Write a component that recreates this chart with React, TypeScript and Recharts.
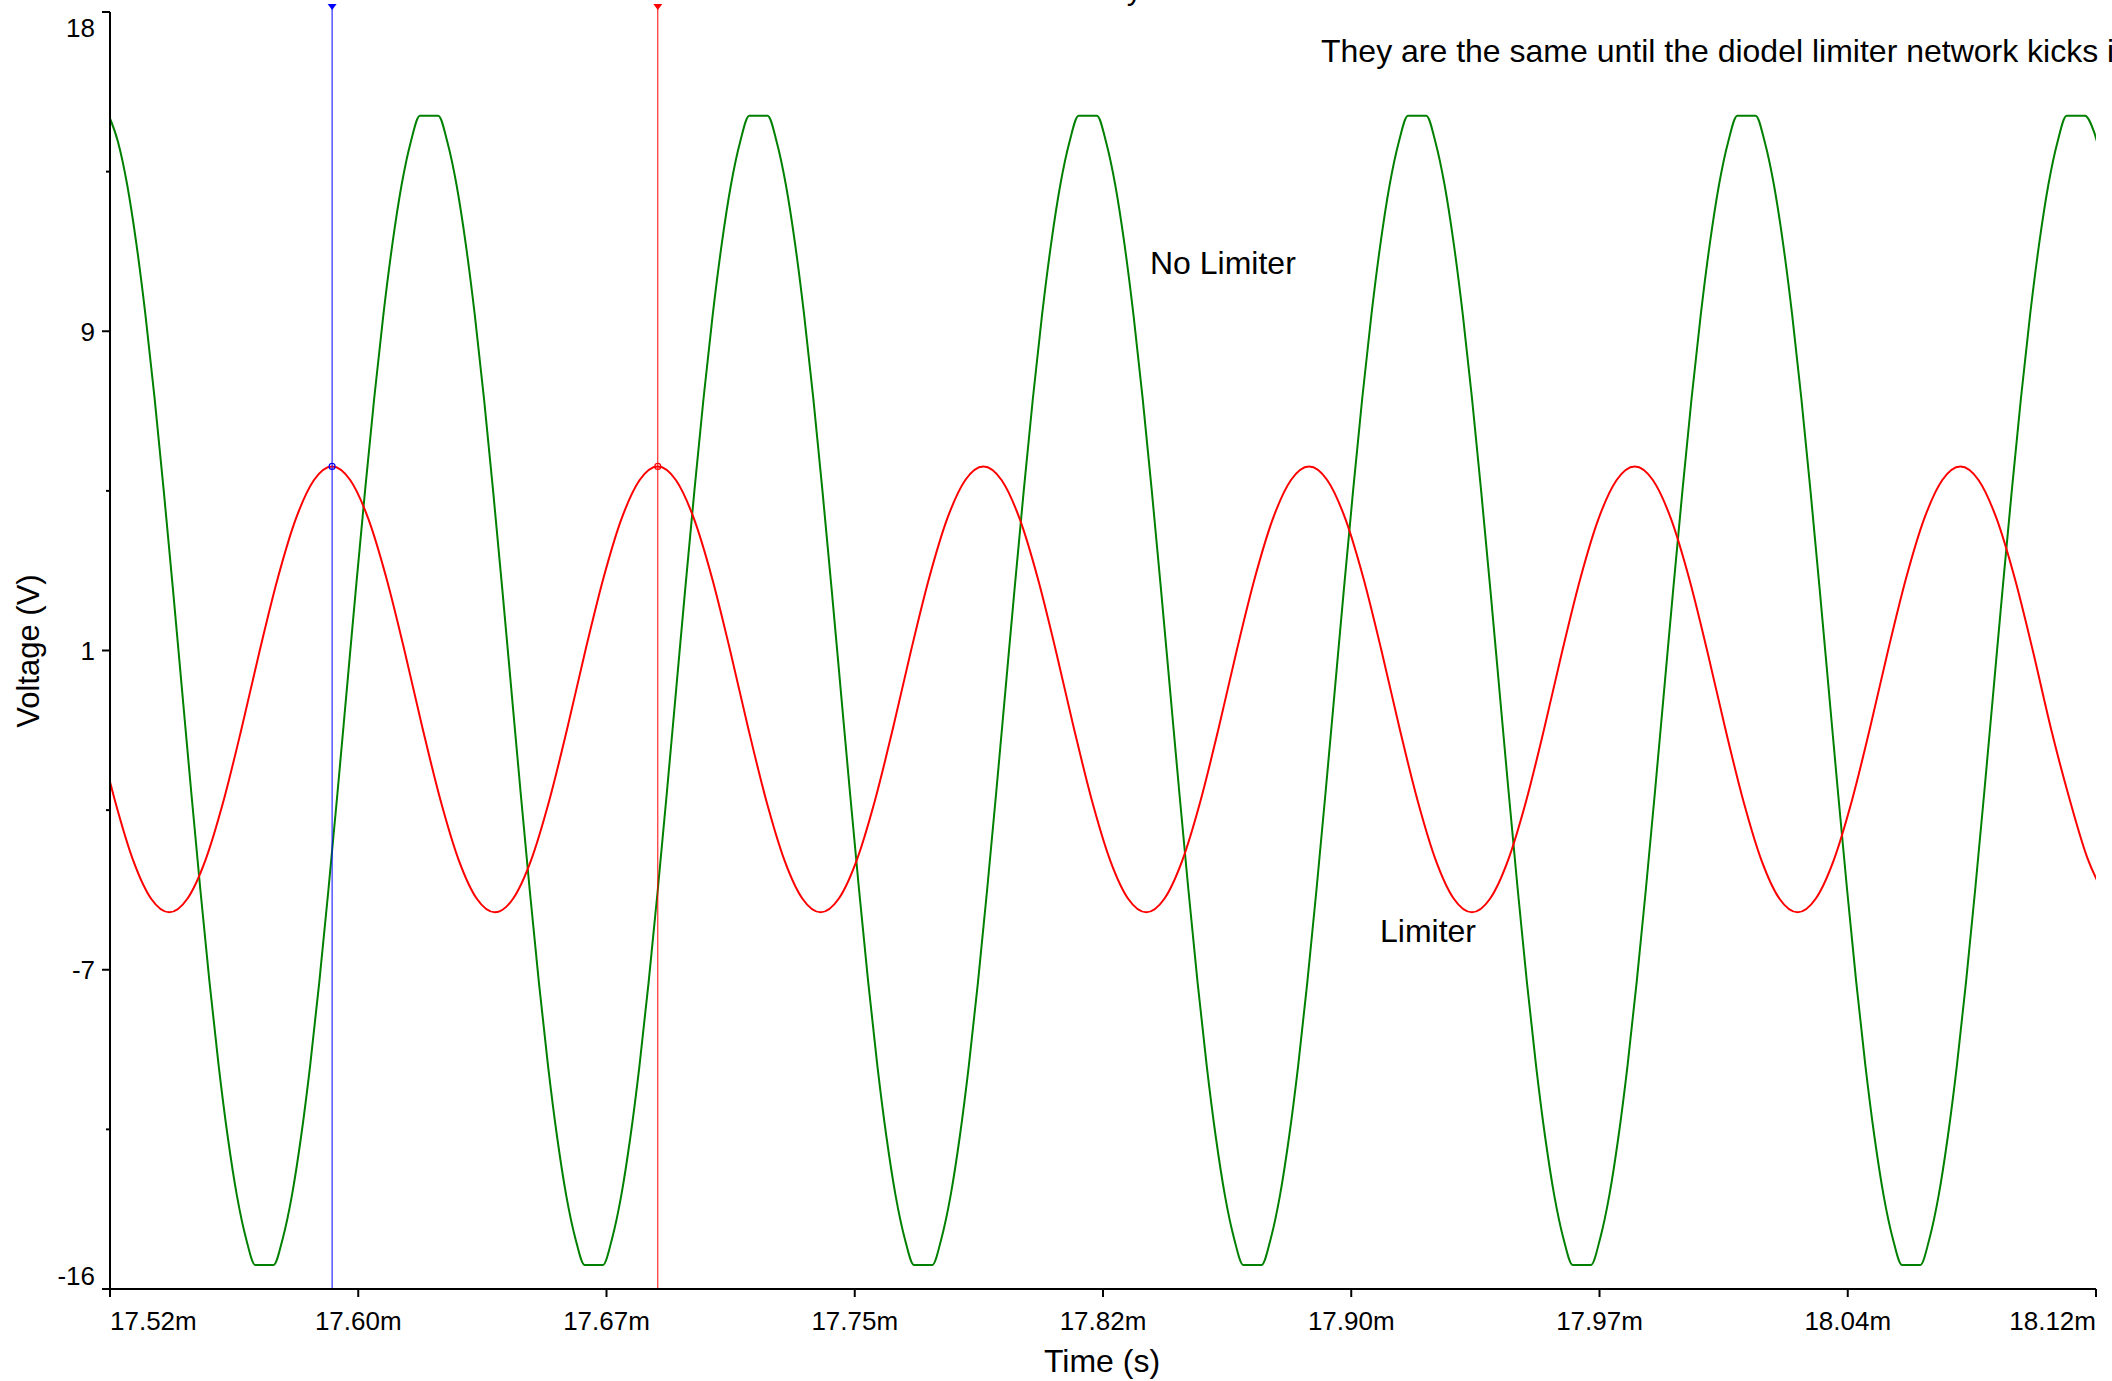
import React from 'react';
import { LineChart, Line, XAxis, YAxis, ReferenceLine, ReferenceDot, Customized } from 'recharts';

// Time axis (ms), shown with an "m" suffix
const X_TICKS = [17.52, 17.595, 17.67, 17.745, 17.82, 17.895, 17.97, 18.045, 18.12];
const X_TICK_LABELS = ['17.52m', '17.60m', '17.67m', '17.75m', '17.82m', '17.90m', '17.97m', '18.04m', '18.12m'];

// Voltage axis: four equal divisions of the -16..18 span, labels truncated toward zero
const Y_MAJOR_TICKS = [18, 9.5, 1, -7.5, -16];
const Y_TICK_LABELS = ['18', '9', '1', '-7', '-16'];
const Y_MINOR_TICKS = [13.75, 5.25, -3.25, -11.75];

// "No Limiter" trace: op-amp output, flattening at the rails
const GREEN_T0 = 17.51966; // ms, first sample
const GREEN_DT = 0.0027639; // ms between samples
const GREEN_VOLTS = [
  15.24, 14.54, 13.4, 11.84, 9.93, 7.71, 5.25, 2.64, -0.06, -2.76, -5.37, -7.83, -10.05, -11.96, -13.52, -14.66, -15.36, -15.36,
  -15.36, -14.66, -13.52, -11.96, -10.05, -7.83, -5.37, -2.76, -0.06, 2.64, 5.25, 7.71, 9.93, 11.84, 13.4, 14.54, 15.24, 15.24,
  15.24, 14.54, 13.4, 11.84, 9.93, 7.71, 5.25, 2.64, -0.06, -2.76, -5.37, -7.83, -10.05, -11.96, -13.52, -14.66, -15.36, -15.36,
  -15.36, -14.66, -13.52, -11.96, -10.05, -7.83, -5.37, -2.76, -0.06, 2.64, 5.25, 7.71, 9.93, 11.84, 13.4, 14.54, 15.24, 15.24,
  15.24, 14.54, 13.4, 11.84, 9.93, 7.71, 5.25, 2.64, -0.06, -2.76, -5.37, -7.83, -10.05, -11.96, -13.52, -14.66, -15.36, -15.36,
  -15.36, -14.66, -13.52, -11.96, -10.05, -7.83, -5.37, -2.76, -0.06, 2.64, 5.25, 7.71, 9.93, 11.84, 13.4, 14.54, 15.24, 15.24,
  15.24, 14.54, 13.4, 11.84, 9.93, 7.71, 5.25, 2.64, -0.06, -2.76, -5.37, -7.83, -10.05, -11.96, -13.52, -14.66, -15.36, -15.36,
  -15.36, -14.66, -13.52, -11.96, -10.05, -7.83, -5.37, -2.76, -0.06, 2.64, 5.25, 7.71, 9.93, 11.84, 13.4, 14.54, 15.24, 15.24,
  15.24, 14.54, 13.4, 11.84, 9.93, 7.71, 5.25, 2.64, -0.06, -2.76, -5.37, -7.83, -10.05, -11.96, -13.52, -14.66, -15.36, -15.36,
  -15.36, -14.66, -13.52, -11.96, -10.05, -7.83, -5.37, -2.76, -0.06, 2.64, 5.25, 7.71, 9.93, 11.84, 13.4, 14.54, 15.24, 15.24,
  15.24, 14.54, 13.4, 11.84, 9.93, 7.71, 5.25, 2.64, -0.06, -2.76, -5.37, -7.83, -10.05, -11.96, -13.52, -14.66, -15.36, -15.36,
  -15.36, -14.66, -13.52, -11.96, -10.05, -7.83, -5.37, -2.76, -0.06, 2.64, 5.25, 7.71, 9.93, 11.84, 13.4, 14.54, 15.24, 15.24,
  15.24, 14.8, 13.9,
];

// "Limiter" trace: diode-limited oscillator output
const RED_T0 = 17.51604; // ms, first sample
const RED_DT = 0.005466; // ms between samples
const RED_VOLTS = [
  -1.07, -3.0, -4.58, -5.61, -5.97, -5.61, -4.58, -3.0, -1.07, 1.0, 2.93, 4.51, 5.54, 5.9, 5.54, 4.51, 2.93, 1.0,
  -1.07, -3.0, -4.58, -5.61, -5.97, -5.61, -4.58, -3.0, -1.07, 1.0, 2.93, 4.51, 5.54, 5.9, 5.54, 4.51, 2.93, 1.0,
  -1.07, -3.0, -4.58, -5.61, -5.97, -5.61, -4.58, -3.0, -1.07, 1.0, 2.93, 4.51, 5.54, 5.9, 5.54, 4.51, 2.93, 1.0,
  -1.07, -3.0, -4.58, -5.61, -5.97, -5.61, -4.58, -3.0, -1.07, 1.0, 2.93, 4.51, 5.54, 5.9, 5.54, 4.51, 2.93, 1.0,
  -1.07, -3.0, -4.58, -5.61, -5.97, -5.61, -4.58, -3.0, -1.07, 1.0, 2.93, 4.51, 5.54, 5.9, 5.54, 4.51, 2.93, 1.0,
  -1.07, -3.0, -4.58, -5.61, -5.97, -5.61, -4.58, -3.0, -1.07, 1.0, 2.93, 4.51, 5.54, 5.9, 5.54, 4.51, 2.93, 1.0,
  -1.07, -2.9, -4.5, -5.55,
];

// Measurement cursors sitting on the first two "Limiter" peaks
const CURSOR_TIMES = [17.5871, 17.6855];
const CURSOR_VOLTS = [5.9, 5.9];
const CURSOR_COLORS = ['#0000ff', '#ff0000'];

const greenSeries = GREEN_VOLTS.map((v, i) => ({ t: GREEN_T0 + i * GREEN_DT, v }));
const redSeries = RED_VOLTS.map((v, i) => ({ t: RED_T0 + i * RED_DT, v }));

const FONT = '"Liberation Sans", Arial, Helvetica, sans-serif';

function XTick(props: any) {
  const { x, y, payload } = props;
  const i = X_TICKS.findIndex((v) => Math.abs(v - payload.value) < 1e-6);
  if (i < 0) return null;
  const anchor = i === 0 ? 'start' : i === X_TICKS.length - 1 ? 'end' : 'middle';
  return (
    <g>
      <line x1={x} x2={x} y1={y} y2={y + 8} stroke="#000" strokeWidth={2} />
      <text x={x} y={y + 41} textAnchor={anchor} fontSize={26} fontFamily={FONT} fill="#000">
        {X_TICK_LABELS[i]}
      </text>
    </g>
  );
}

function YTick(props: any) {
  const { x, y, payload } = props;
  const i = Y_MAJOR_TICKS.findIndex((v) => Math.abs(v - payload.value) < 1e-6);
  if (i < 0) {
    return <line x1={x - 4} x2={x} y1={y} y2={y} stroke="#000" strokeWidth={2} />;
  }
  const dy = i === 0 ? 25 : i === Y_MAJOR_TICKS.length - 1 ? -4.5 : 9.5;
  return (
    <g>
      <line x1={x - 8} x2={x} y1={y} y2={y} stroke="#000" strokeWidth={2} />
      <text x={x - 15} y={y + dy} textAnchor="end" fontSize={26} fontFamily={FONT} fill="#000">
        {Y_TICK_LABELS[i]}
      </text>
    </g>
  );
}

const cursorHead = (color: string) => (p: any) => (
  <g>
    <line x1={p.cx} x2={p.cx} y1={p.cy - 8} y2={p.cy} stroke={color} strokeWidth={1} />
    <path d={`M${p.cx - 4.5},${p.cy - 8} L${p.cx + 4.5},${p.cy - 8} L${p.cx},${p.cy - 2} Z`} fill={color} />
  </g>
);

const cursorMark = (color: string) => (p: any) => (
  <circle cx={p.cx} cy={p.cy} r={3} fill="none" stroke={color} strokeWidth={1.2} />
);

function Annotations() {
  return (
    <g fontFamily={FONT} fill="#000">
      <text x={1055} y={-1} textAnchor="middle" fontSize={31}>Transient Analysis</text>
      <text x={1321} y={62} fontSize={32}>They are the same until the diodel limiter network kicks in</text>
      <text x={1150} y={274} fontSize={32}>No Limiter</text>
      <text x={1380} y={942} fontSize={32}>Limiter</text>
      <text x={1102} y={1372} textAnchor="middle" fontSize={32}>Time (s)</text>
      <text transform="rotate(-90)" x={-651} y={39} textAnchor="middle" fontSize={31}>Voltage (V)</text>
    </g>
  );
}

export default function App() {
  return (
    <div style={{ position: 'absolute', left: 0, top: 0, width: 2112, height: 1381, background: '#fff', overflow: 'hidden' }}>
      <LineChart width={2112} height={1381} margin={{ top: 12, right: 16, bottom: 0, left: 0 }}>
        <XAxis
          dataKey="t"
          type="number"
          domain={[17.52, 18.12]}
          ticks={X_TICKS}
          interval={0}
          allowDataOverflow
          height={92}
          tickSize={0}
          tickMargin={0}
          tickLine={false}
          axisLine={{ stroke: '#000', strokeWidth: 2 }}
          tick={<XTick />}
        />
        <YAxis
          type="number"
          domain={[-16, 18]}
          ticks={[...Y_MAJOR_TICKS, ...Y_MINOR_TICKS].sort((a, b) => b - a)}
          interval={0}
          allowDataOverflow
          width={110}
          tickSize={0}
          tickMargin={0}
          tickLine={false}
          axisLine={{ stroke: '#000', strokeWidth: 2 }}
          tick={<YTick />}
        />
        <Line
          data={greenSeries}
          dataKey="v"
          type="monotone"
          stroke="#008000"
          strokeWidth={2}
          dot={false}
          activeDot={false}
          isAnimationActive={false}
        />
        <Line
          data={redSeries}
          dataKey="v"
          type="monotone"
          stroke="#ff0000"
          strokeWidth={2}
          dot={false}
          activeDot={false}
          isAnimationActive={false}
        />
        {CURSOR_TIMES.map((t, i) => (
          <ReferenceLine key={`cl${i}`} x={t} stroke={CURSOR_COLORS[i]} strokeWidth={1} />
        ))}
        {CURSOR_TIMES.map((t, i) => (
          <ReferenceDot key={`ch${i}`} x={t} y={18} ifOverflow="visible" shape={cursorHead(CURSOR_COLORS[i])} />
        ))}
        {CURSOR_TIMES.map((t, i) => (
          <ReferenceDot key={`cm${i}`} x={t} y={CURSOR_VOLTS[i]} ifOverflow="visible" shape={cursorMark(CURSOR_COLORS[i])} />
        ))}
        <Customized component={<Annotations />} />
      </LineChart>
    </div>
  );
}
